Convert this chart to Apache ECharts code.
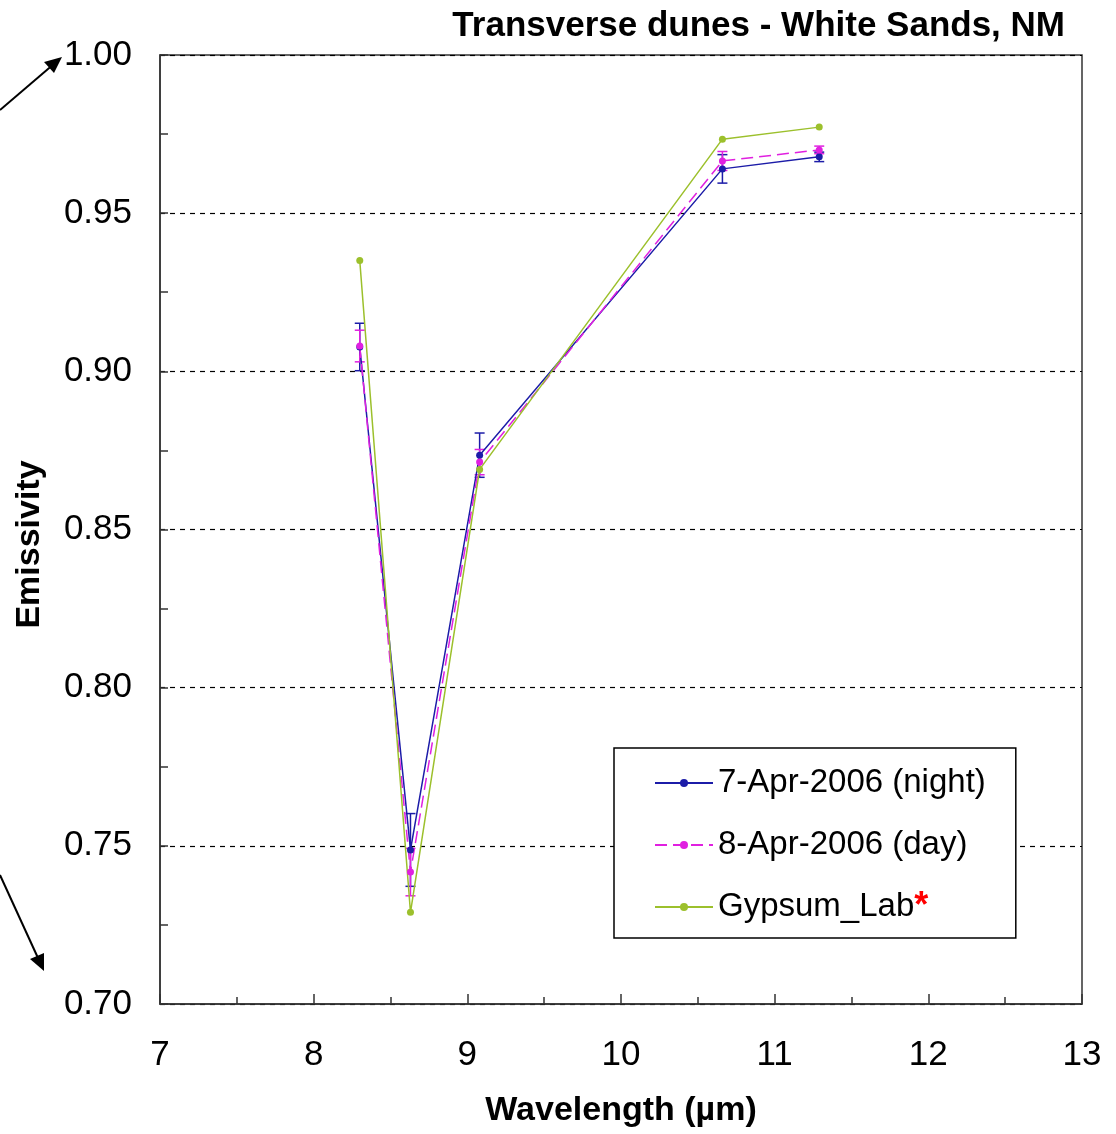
<!DOCTYPE html>
<html>

<head>
    <meta charset="UTF-8">
    <title>Transverse dunes - White Sands, NM</title>
    <script src="https://cdn.jsdelivr.net/npm/echarts@6/dist/echarts.min.js"></script>
</head>

<body style="margin:0;background:#fff;">

    <div id="main" style="width:1116px;height:1134px;"></div>

    <script>

        // wavelengths (µm)
        var wavelengths = [8.3, 8.63, 9.08, 10.66, 11.29];

        // emissivity values
        var night = [0.9077, 0.7487, 0.8735, 0.9640, 0.9678];
        var day = [0.9080, 0.7417, 0.8713, 0.9665, 0.9700];
        var gypsum = [0.9350, 0.7290, 0.8690, 0.9734, 0.9772];

        // error bar half widths
        var nightErr = [0.0075, 0.0115, 0.0070, 0.0045, 0.0015];
        var dayErr = [0.0050, 0.0075, 0.0040, 0.0030, 0.0012];

        var xTicks = [7, 8, 9, 10, 11, 12, 13];
        var yTicks = [0.70, 0.75, 0.80, 0.85, 0.90, 0.95, 1.00];

        var seriesNames = ['7-Apr-2006 (night)', '8-Apr-2006 (day)', 'Gypsum_Lab'];
        var colors = ['#1c1ca8', '#e020e0', '#9cc02c'];

        function pairs(ys) {
            return wavelengths.map(function (x, i) { return [x, ys[i]]; });
        }

        function errData(ys, errs) {
            return wavelengths.map(function (x, i) { return [x, ys[i] - errs[i], ys[i] + errs[i]]; });
        }

        function errorBars(name, ys, errs, color) {
            return {
                name: name,
                type: 'custom',
                silent: true,
                z: 3,
                data: errData(ys, errs),
                renderItem: function (params, api) {
                    var lo = api.coord([api.value(0), api.value(1)]);
                    var hi = api.coord([api.value(0), api.value(2)]);
                    var w = 5;
                    var st = { stroke: color, lineWidth: 1.5 };
                    return {
                        type: 'group',
                        children: [
                            { type: 'line', shape: { x1: lo[0], y1: lo[1], x2: hi[0], y2: hi[1] }, style: st },
                            { type: 'line', shape: { x1: lo[0] - w, y1: lo[1], x2: lo[0] + w, y2: lo[1] }, style: st },
                            { type: 'line', shape: { x1: hi[0] - w, y1: hi[1], x2: hi[0] + w, y2: hi[1] }, style: st }
                        ]
                    };
                }
            };
        }

        function lineSeries(name, ys, color, dashed) {
            return {
                name: name,
                type: 'line',
                data: pairs(ys),
                symbol: 'circle',
                symbolSize: 7,
                z: 4,
                lineStyle: { color: color, width: 1.5, type: dashed ? [12, 6] : 'solid' },
                itemStyle: { color: color }
            };
        }

        var myChart = echarts.init(document.getElementById('main'), null, { renderer: 'canvas' });

        var option = {
            backgroundColor: '#fff',
            animation: false,
            textStyle: { fontFamily: 'Liberation Sans, Arial, sans-serif' },
            title: {
                text: 'Transverse dunes - White Sands, NM',
                right: 46,
                top: 4,
                textStyle: { fontSize: 35, fontWeight: 'bold', color: '#000' }
            },
            grid: {
                left: 160,
                right: 34,
                top: 55,
                bottom: 130,
                show: true,
                borderColor: '#333',
                borderWidth: 1.5
            },
            legend: {
                data: seriesNames.map(function (n) { return { name: n }; }),
                orient: 'vertical',
                left: 614,
                top: 748,
                padding: [17, 30, 13, 40],
                itemGap: 26,
                itemWidth: 58,
                itemHeight: 10,
                borderColor: '#000',
                borderWidth: 1.5,
                backgroundColor: '#fff',
                textStyle: {
                    fontSize: 33,
                    lineHeight: 36,
                    color: '#000',
                    rich: {
                        star: { color: '#ff0000', fontSize: 36, lineHeight: 36, fontWeight: 'bold' }
                    }
                },
                formatter: function (n) {
                    return n === 'Gypsum_Lab' ? n + '{star|*}' : n;
                }
            },
            xAxis: {
                type: 'value',
                min: xTicks[0],
                max: xTicks[xTicks.length - 1],
                interval: 1,
                name: 'Wavelength (µm)',
                nameLocation: 'middle',
                nameGap: 90,
                nameTextStyle: { fontSize: 34, fontWeight: 'bold', color: '#000' },
                axisLine: { lineStyle: { color: '#333', width: 1.5 } },
                axisTick: { inside: true, length: 10, lineStyle: { color: '#333', width: 1.5 } },
                minorTick: { show: true, splitNumber: 2, length: 7, lineStyle: { color: '#333', width: 1.5 } },
                axisLabel: { fontSize: 35, color: '#000', margin: 34 },
                splitLine: { show: false }
            },
            yAxis: {
                type: 'value',
                min: yTicks[0],
                max: yTicks[yTicks.length - 1],
                interval: 0.05,
                name: 'Emissivity',
                nameLocation: 'middle',
                nameGap: 113,
                nameTextStyle: { fontSize: 34, fontWeight: 'bold', color: '#000', padding: [0, 30, 0, 0] },
                axisLine: { lineStyle: { color: '#333', width: 1.5 } },
                axisTick: { inside: true, length: 8, lineStyle: { color: '#333', width: 1.5 } },
                minorTick: { show: true, splitNumber: 2, length: 8, lineStyle: { color: '#333', width: 1.5 } },
                axisLabel: {
                    fontSize: 35, color: '#000', margin: 28,
                    formatter: function (v) { return v.toFixed(2); }
                },
                splitLine: { show: true, lineStyle: { color: '#000', type: [5, 5], width: 1.2 } }
            },
            graphic: [
                { type: 'line', shape: { x1: 0, y1: 110, x2: 55, y2: 63 }, style: { stroke: '#000', lineWidth: 2 } },
                { type: 'polygon', shape: { points: [[62, 57], [44, 62], [54, 73]] }, style: { fill: '#000' } },
                { type: 'line', shape: { x1: 0, y1: 875, x2: 38, y2: 958 }, style: { stroke: '#000', lineWidth: 2 } },
                { type: 'polygon', shape: { points: [[44, 971], [30, 959], [44, 953]] }, style: { fill: '#000' } }
            ],
            series: [
                lineSeries(seriesNames[0], night, colors[0], false),
                lineSeries(seriesNames[1], day, colors[1], true),
                lineSeries(seriesNames[2], gypsum, colors[2], false),
                errorBars(seriesNames[0], night, nightErr, colors[0]),
                errorBars(seriesNames[1], day, dayErr, colors[1])
            ]
        };

        myChart.setOption(option);

    </script>
</body>

</html>
